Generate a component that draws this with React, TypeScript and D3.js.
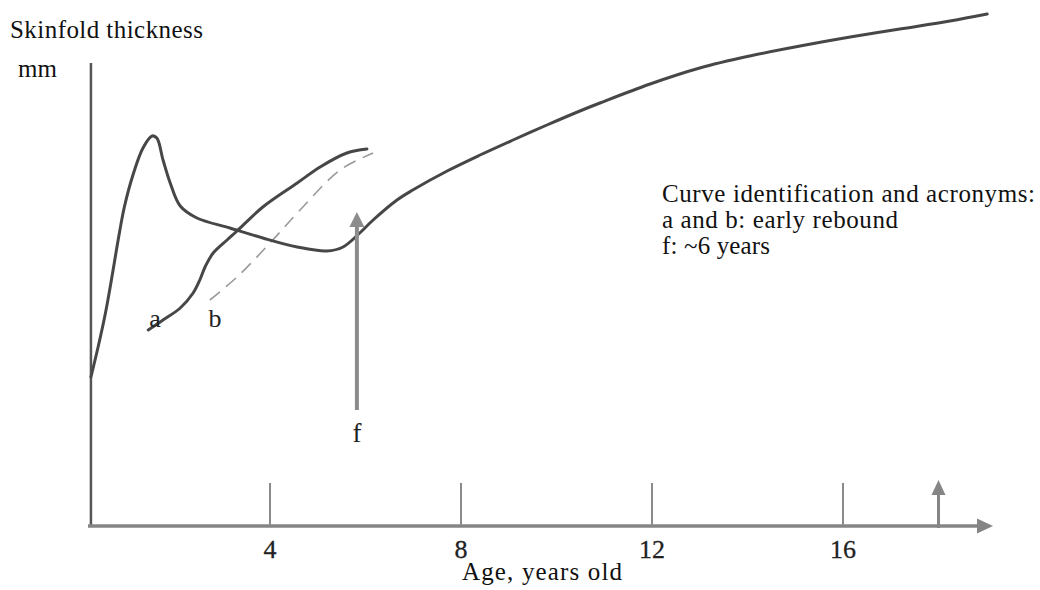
import * as d3 from 'd3'

const width = 1040
const height = 590

// Curve readings: [age in years, skinfold thickness in mm]
const mainCurve: [number, number][] = [
  [0.25, 14.9], [0.4, 17.9], [0.55, 21.2], [0.7, 25.2],
  [0.82, 28.6], [0.95, 31.9], [1.13, 35.1], [1.34, 37.8], [1.53, 39.0],
  [1.63, 38.8], [1.76, 36.6], [1.91, 34.3], [2.12, 32.0], [2.47, 30.8],
  [3.16, 29.8], [3.85, 28.8], [4.57, 27.9], [5.19, 27.5], [5.53, 27.9],
  [5.88, 29.3], [6.16, 30.6], [6.66, 32.6], [6.99, 33.6], [7.71, 35.5],
  [8.4, 37.1], [9.09, 38.6], [9.8, 40.1], [10.49, 41.5], [10.91, 42.3],
  [11.96, 44.2], [13.0, 45.8], [14.05, 47.0], [15.1, 48.0], [16.15, 48.9],
  [17.19, 49.7], [18.24, 50.5], [19.02, 51.2],
]

const curveA: [number, number][] = [
  [1.45, 19.6], [1.76, 20.6], [2.12, 21.8], [2.39, 23.3], [2.53, 24.6],
  [2.64, 25.9], [2.81, 27.3], [3.1, 28.6], [3.31, 29.5], [3.85, 31.9],
  [4.57, 34.3], [5.05, 35.9], [5.61, 37.3], [6.03, 37.7],
]

const curveB: [number, number][] = [
  [2.74, 22.6], [3.31, 24.9], [4.0, 28.3], [4.63, 31.6], [5.47, 35.6],
  [6.16, 37.3],
]

const ageTicks = [4, 8, 12, 16]
const arrowF = { age: 5.82, from: 11.6, to: 31.4 }
const arrowAdult = { age: 18.0, from: 0, to: 4.6 }

const legendLines = [
  { text: 'Curve identification and acronyms:', len: 373 },
  { text: 'a and b: early rebound', len: 236 },
  { text: 'f: ~6 years', len: 108 },
]

const serif = '"Liberation Serif", "Times New Roman", serif'

export default function App() {
  const x = d3.scaleLinear([0, 20], [79, 1034])
  const y = d3.scaleLinear([0, 52], [526, 6])

  const line = d3
    .line<[number, number]>()
    .x(d => x(d[0]))
    .y(d => y(d[1]))
    .curve(d3.curveCatmullRom.alpha(0.5))

  const axisX0 = 88
  const axisY = y(0)
  const axisXEnd = 993
  const yAxisX = x(0.25)

  const fx = x(arrowF.age)
  const fTip = y(arrowF.to)
  const ax = x(arrowAdult.age)
  const aTip = y(arrowAdult.to)

  return (
    <svg
      width={width}
      height={height}
      viewBox={`0 0 ${width} ${height}`}
      style={{ position: 'absolute', left: 0, top: 0, background: '#fff' }}
      fontFamily={serif}
    >
      {/* y axis */}
      <line x1={yAxisX} x2={yAxisX} y1={63} y2={axisY + 1} stroke="#555" strokeWidth={2.5} />

      {/* x axis with arrowhead */}
      <line x1={axisX0} x2={axisXEnd - 14} y1={axisY} y2={axisY} stroke="#858585" strokeWidth={3.5} />
      <path
        d={`M${axisXEnd},${axisY} L${axisXEnd - 16},${axisY - 7.5} L${axisXEnd - 16},${axisY + 7.5} Z`}
        fill="#858585"
      />

      {/* ticks */}
      {ageTicks.map(t => (
        <g key={t}>
          <line x1={x(t)} x2={x(t)} y1={483} y2={axisY} stroke="#8a8a8a" strokeWidth={2} />
          <text x={x(t)} y={558} textAnchor="middle" fontSize={26} fill="#222" stroke="#222" strokeWidth={0.3}>
            {t}
          </text>
        </g>
      ))}

      {/* adult arrow at 18 */}
      <line x1={ax} x2={ax} y1={axisY + 2} y2={aTip + 12} stroke="#858585" strokeWidth={3} />
      <path d={`M${ax},${aTip} L${ax - 7},${aTip + 15} L${ax + 7},${aTip + 15} Z`} fill="#858585" />

      {/* curves */}
      <path d={line(curveB) ?? ''} fill="none" stroke="#9a9a9a" strokeWidth={1.6} strokeDasharray="13 8" />
      <path d={line(curveA) ?? ''} fill="none" stroke="#474747" strokeWidth={3} strokeLinecap="round" />
      <path d={line(mainCurve) ?? ''} fill="none" stroke="#474747" strokeWidth={3} strokeLinecap="round" />

      {/* arrow f */}
      <line x1={fx} x2={fx} y1={y(arrowF.from)} y2={fTip + 12} stroke="#8c8c8c" strokeWidth={4} />
      <path d={`M${fx},${fTip} L${fx - 7.5},${fTip + 15} L${fx + 7.5},${fTip + 15} Z`} fill="#8c8c8c" />
      <text x={fx} y={442} textAnchor="middle" fontSize={27} fill="#222">
        f
      </text>

      {/* curve labels */}
      <text x={155} y={327} textAnchor="middle" fontSize={26} fill="#222">
        a
      </text>
      <text x={215} y={327} textAnchor="middle" fontSize={26} fill="#222">
        b
      </text>

      {/* axis titles */}
      <text x={10} y={38} fontSize={25} textLength={193} lengthAdjust="spacing" fill="#111">
        Skinfold thickness
      </text>
      <text x={18} y={77} fontSize={25} fill="#111">
        mm
      </text>
      <text x={462} y={580} fontSize={25} textLength={160} lengthAdjust="spacing" fill="#111">
        Age, years old
      </text>

      {/* legend */}
      {legendLines.map((l, i) => (
        <text
          key={l.text}
          x={662}
          y={202 + i * 26}
          fontSize={25}
          textLength={l.len}
          lengthAdjust="spacing"
          fill="#111"
        >
          {l.text}
        </text>
      ))}
    </svg>
  )
}
